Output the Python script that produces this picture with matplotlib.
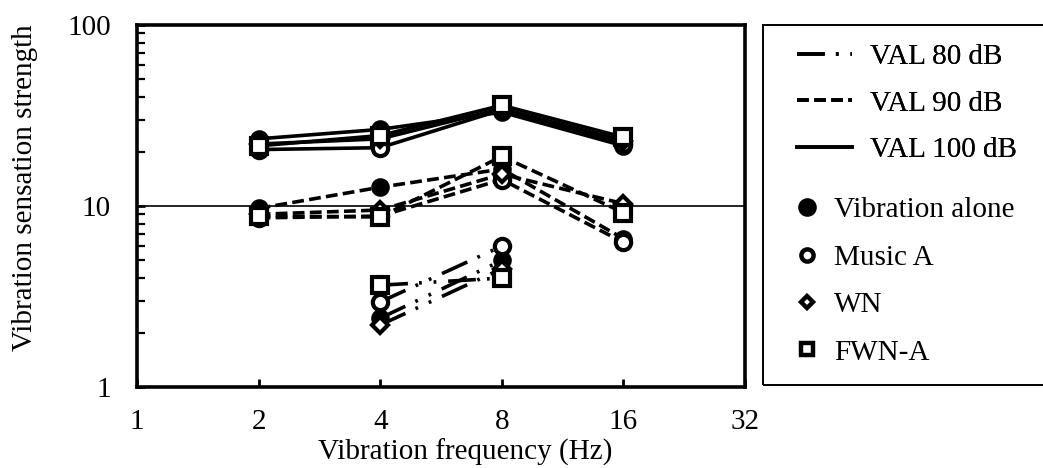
import matplotlib
matplotlib.use("Agg")
import matplotlib.pyplot as plt
from matplotlib.lines import Line2D
from matplotlib.patches import Rectangle
from matplotlib.ticker import FixedLocator, LogLocator, NullFormatter

plt.rcParams['font.family'] = ['Liberation Serif', 'DejaVu Serif']
plt.rcParams['lines.scale_dashes'] = False

# ---- data ----
freqs = [2, 4, 8, 16]
freqs_80 = [4, 8]
x_ticks = [1, 2, 4, 8, 16, 32]
y_ticks = [1, 10, 100]

conditions = ["Vibration alone", "Music A", "WN", "FWN-A"]

# VAL 100 dB
alone_100 = [23.5, 26.5, 33.0, 21.5]
music_100 = [20.5, 21.0, 34.0, 22.0]
wn_100 = [22.0, 23.5, 34.5, 23.0]
fwn_100 = [21.5, 24.5, 36.0, 24.0]

# VAL 90 dB
alone_90 = [9.7, 12.7, 16.0, 6.6]
music_90 = [8.6, 8.8, 14.0, 6.3]
wn_90 = [9.0, 9.5, 15.0, 10.3]
fwn_90 = [8.8, 8.7, 18.8, 9.2]

# VAL 80 dB (only 4 and 8 Hz)
alone_80 = [2.4, 5.0]
music_80 = [2.95, 6.0]
wn_80 = [2.2, 4.5]
fwn_80 = [3.65, 4.0]

FS = 21
W, H = 1043, 468
fig = plt.figure(figsize=(W / 100, H / 100), dpi=100)
ax = fig.add_axes([137 / W, 1 - 387 / H, (745 - 137) / W, (387 - 25) / H])

# marker styles per condition
mstyle = {
    "Vibration alone": dict(marker="o", ms=11, mfc="black", mec="black", mew=2.4),
    "Music A": dict(marker="o", ms=11, mfc="white", mec="black", mew=3.0),
    "WN": dict(marker="D", ms=8, mfc="white", mec="black", mew=3.0),
    "FWN-A": dict(marker="s", ms=11, mfc="white", mec="black", mew=3.0),
}

dash_80 = (0, (20, 8, 2, 8.5, 2, 8.5))
dash_90 = (0, (8.5, 3.8))
lw = 2.6

levels = [
    (freqs_80, [alone_80, music_80, wn_80, fwn_80], dash_80),
    (freqs, [alone_90, music_90, wn_90, fwn_90], dash_90),
    (freqs, [alone_100, music_100, wn_100, fwn_100], "-"),
]

# lines first, markers on top
for xs, series, ls in levels:
    for ys in series:
        ax.plot(xs, ys, color="black", lw=lw, linestyle=ls,
                dash_capstyle="butt", zorder=2)
for xs, series, ls in levels:
    for cond, ys in zip(conditions, series):
        ax.plot(xs, ys, linestyle="none", zorder=3, **mstyle[cond])

ax.axhline(10, color="black", lw=1.2, zorder=1)

ax.set_xscale("log", base=2)
ax.set_yscale("log")
ax.set_xlim(1, 32)
ax.set_ylim(1, 100)
ax.xaxis.set_major_locator(FixedLocator(x_ticks))
ax.set_xticklabels([str(v) for v in x_ticks])
ax.xaxis.set_minor_locator(FixedLocator([]))
ax.yaxis.set_major_locator(FixedLocator(y_ticks))
ax.set_yticklabels([str(v) for v in y_ticks])
ax.yaxis.set_minor_locator(LogLocator(base=10, subs=range(2, 10)))
ax.yaxis.set_minor_formatter(NullFormatter())

ax.tick_params(axis="x", which="major", direction="in", length=6, width=2,
               labelsize=FS, pad=16, top=False)
ax.tick_params(axis="y", which="major", direction="in", length=6, width=2,
               labelsize=FS, pad=19, right=False)
ax.tick_params(axis="y", which="minor", direction="in", length=6, width=1.6,
               right=False)

for sp in ax.spines.values():
    sp.set_linewidth(2.6)

fig.text(465 / W, 1 - 452 / H, "Vibration frequency (Hz)", fontsize=FS,
         ha="center", va="center")
fig.text(25 / W, 1 - 188 / H, "Vibration sensation strength", fontsize=FS,
         ha="center", va="center", rotation=90)

# legend frame (runs off the right edge like the original)
fig.add_artist(Rectangle((763 / W, 1 - 385 / H), (1060 - 763) / W, (385 - 25) / H,
                         transform=fig.transFigure, fill=False, lw=1.4,
                         edgecolor="black", clip_on=False))

line_handles = [
    Line2D([], [], color="black", lw=lw, linestyle=dash_80, dash_capstyle="butt"),
    Line2D([], [], color="black", lw=lw, linestyle=dash_90, dash_capstyle="butt"),
    Line2D([], [], color="black", lw=lw, linestyle="-"),
]
line_labels = ["VAL 80 dB", "VAL 90 dB", "VAL 100 dB"]
leg1 = fig.legend(line_handles, line_labels, loc="upper left",
                  bbox_to_anchor=(797 / W, 1 - 44 / H), frameon=False,
                  fontsize=FS, handlelength=1.9, handletextpad=0.6,
                  labelspacing=0.68, borderpad=0, borderaxespad=0)

marker_handles = [Line2D([], [], linestyle="none", **mstyle[c]) for c in conditions]
for h, c in zip(marker_handles, conditions):
    if c != "Vibration alone":
        h.set_markersize(mstyle[c]["ms"] * 0.8)
        h.set_markeredgewidth(3.2)
leg2 = fig.legend(marker_handles, conditions, loc="upper left",
                  bbox_to_anchor=(792 / W, 1 - 197 / H), frameon=False,
                  fontsize=FS, handlelength=1.0, handletextpad=0.45,
                  labelspacing=0.72, borderpad=0, borderaxespad=0)
fig.add_artist(leg1)

fig.savefig("out.png", dpi=100)
